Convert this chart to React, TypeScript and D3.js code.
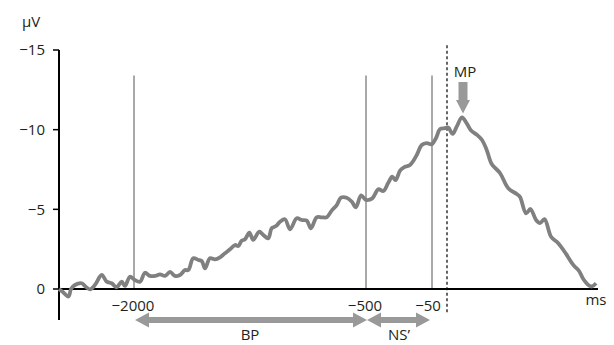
import React from "react";
import * as d3 from "d3";

// readiness potential trace, time in ms relative to movement onset
const timeMs = [
  -2480, -2459, -2419, -2403, -2378, -2335, -2309, -2282, -2250, -2207, -2175, -2143,
  -2111, -2079, -2058, -2026, -1994, -1961, -1929, -1897, -1864, -1832, -1800, -1767,
  -1735, -1703, -1670, -1649, -1617, -1584, -1562, -1541, -1509, -1476, -1444, -1412,
  -1379, -1347, -1326, -1304, -1282, -1254, -1229, -1190, -1164, -1132, -1110, -1082,
  -1056, -1024, -991, -948, -916, -883, -856, -819, -786, -754, -722, -689, -662, -625,
  -592, -565, -532, -500, -457, -416, -382, -348, -321, -298, -268, -241, -200, -154,
  -120, -86, -52, -37, -23, -7, 8, 36, 62, 96, 126, 154, 192, 224, 254, 286, 339, 392,
  446, 467, 506, 534, 570, 595, 624, 666, 712, 762, 808, 845, 872, 909, 928, 954,
];

const amplitude = [
  0.0, 0.16, 0.47, 0.0, -0.25, -0.36, -0.14, 0.02, -0.25, -0.88, -0.46, -0.36,
  -0.11, -0.46, -0.19, -0.77, -0.56, -0.46, -1.02, -0.82, -0.82, -0.92, -0.82, -1.07,
  -0.82, -0.88, -1.19, -1.19, -1.93, -1.82, -1.76, -1.3, -1.93, -1.86, -1.99, -2.24,
  -2.49, -2.76, -2.7, -3.03, -3.12, -3.53, -3.08, -3.6, -3.39, -3.18, -3.81, -3.95,
  -4.22, -4.38, -3.75, -4.44, -4.33, -4.29, -3.81, -4.5, -4.5, -4.5, -4.92, -5.27, -5.73, -5.73,
  -5.48, -5.13, -5.88, -5.59, -5.69, -6.26, -6.15, -6.67, -7.05, -6.84, -7.43, -7.64, -7.78, -8.41,
  -9.04, -9.15, -9.08, -9.46, -10.04, -10.09, -10.13, -9.73, -10.19, -10.77, -10.4, -9.95, -9.67, -9.35, -8.73, -7.85, -7.28, -6.32,
  -5.96, -5.78, -4.75, -5.02, -4.33, -4.14, -4.39, -3.28, -2.87, -2.2, -1.51, -1.13, -0.63, -0.22, -0.16, -0.36,
];

const yTicks = [-15, -10, -5, 0];
const markerTimes = [-2000, -500, -50];
const intervalNames = ["BP", "NS\u2019"];
const intervalBounds = [
  [-2000, -500],
  [-500, -50],
];

const W = 614;
const H = 345;
const FONT = "'Open Sans', sans-serif";
const INK = "#231f20";
const GRAY = "#808080";

// the original figure is not evenly spaced in time, so the axis is piecewise
const x = d3
  .scaleLinear()
  .domain([-2480, -2000, -500, -50, 0, 960])
  .range([59, 134, 366, 432, 447, 597]);

const y = d3.scaleLinear().domain([0, -15]).range([289, 50]);

const fmt = (v: number) => (v < 0 ? "\u2212" + Math.abs(v) : String(v));

// double headed arrow as a polygon between two pixel x's
function doubleArrow(x0: number, x1: number, cy: number) {
  const t = 3, hh = 7.5, hl = 14;
  return [
    [x0, cy],
    [x0 + hl, cy - hh],
    [x0 + hl, cy - t],
    [x1 - hl, cy - t],
    [x1 - hl, cy - hh],
    [x1, cy],
    [x1 - hl, cy + hh],
    [x1 - hl, cy + t],
    [x0 + hl, cy + t],
    [x0 + hl, cy + hh],
  ]
    .map((p) => p.join(","))
    .join(" ");
}

export default function App() {
  const pts: [number, number][] = timeMs.map((t, i) => [t, amplitude[i]]);
  const line = d3
    .line<[number, number]>()
    .x((d) => x(d[0]))
    .y((d) => y(d[1]))
    .curve(d3.curveCatmullRom.alpha(0.5));

  const peakIdx = d3.minIndex(amplitude);
  const peakX = x(timeMs[peakIdx]) + 1;
  const peakY = y(amplitude[peakIdx]);

  const x0 = x.domain()[0];
  const y0 = y(0);

  return (
    <>
      <style>{`body{margin:0}`}</style>
      <svg width={W} height={H} style={{ display: "block", fontFamily: FONT }}>
        <rect width={W} height={H} fill="#fff" />

        {/* marker lines */}
        {markerTimes.map((t) => (
          <line
            key={t}
            x1={x(t)}
            x2={x(t)}
            y1={y(-13.4)}
            y2={y0}
            stroke="#8c8c8c"
            strokeWidth={1.5}
          />
        ))}
        <line
          x1={x(0)}
          x2={x(0)}
          y1={y(-15.3)}
          y2={y(1.6)}
          stroke="#000"
          strokeWidth={1.2}
          strokeDasharray="3,2.5"
        />

        {/* axes */}
        <line x1={x(x0)} x2={x(x0)} y1={y(-15)} y2={y(1.95)} stroke="#000" strokeWidth={2} />
        <line x1={x(x0)} x2={598} y1={y0} y2={y0} stroke="#000" strokeWidth={2} />
        {yTicks.map((v) => (
          <g key={v}>
            <line x1={x(x0) - 6} x2={x(x0)} y1={y(v)} y2={y(v)} stroke="#000" strokeWidth={1.5} />
            <text
              x={45}
              y={y(v)}
              dy="0.35em"
              textAnchor="end"
              fontSize={15}
              fill={INK}
            >
              {fmt(v)}
            </text>
          </g>
        ))}
        <text x={22} y={27} fontSize={15} fill={INK}>
          µV
        </text>
        {markerTimes.map((t, i) => (
          <text
            key={t}
            x={x(t) - (i === 2 ? 4 : 1)}
            y={311}
            textAnchor="middle"
            fontSize={15}
            fill={INK}
          >
            {fmt(t)}
          </text>
        ))}
        <text x={596} y={305} textAnchor="middle" fontSize={15} fill={INK}>
          ms
        </text>

        {/* trace */}
        <path d={line(pts) ?? ""} fill="none" stroke={GRAY} strokeWidth={3.8} strokeLinejoin="round" />

        {/* MP arrow */}
        <text x={peakX + 2} y={77} textAnchor="middle" fontSize={15} fill={INK}>
          MP
        </text>
        <polygon
          points={[
            [peakX - 4.5, 82],
            [peakX + 4.5, 82],
            [peakX + 4.5, 100],
            [peakX + 7, 100],
            [peakX, peakY - 4],
            [peakX - 7, 100],
            [peakX - 4.5, 100],
          ]
            .map((p) => p.join(","))
            .join(" ")}
          fill="#999"
        />

        {/* BP / NS' intervals */}
        {intervalBounds.map(([a, b], i) => (
          <g key={intervalNames[i]}>
            <polygon points={doubleArrow(x(a) + 1, x(b) - (i === 1 ? 2 : -1), 320)} fill="#999" />
            <text
              x={(x(a) + x(b)) / 2}
              y={340}
              textAnchor="middle"
              fontSize={15}
              fill={INK}
            >
              {intervalNames[i]}
            </text>
          </g>
        ))}
      </svg>
    </>
  );
}
